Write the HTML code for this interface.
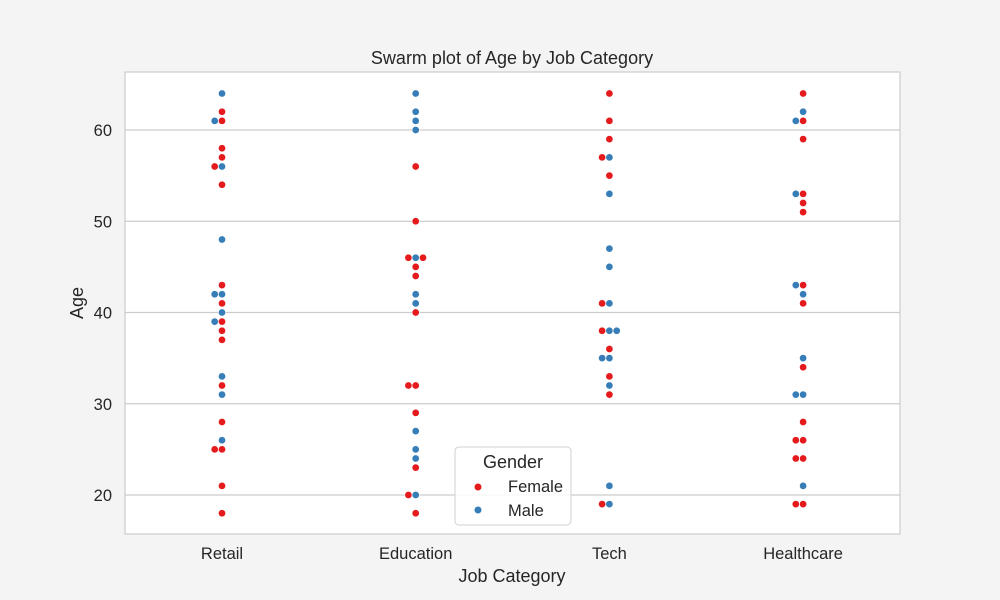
<!DOCTYPE html>
<html><head><meta charset="utf-8"><style>
body{margin:0;background:#f4f4f4;}
svg{display:block;font-family:"Liberation Sans",Arial,sans-serif;}
</style></head><body>
<svg id="c" width="1000" height="600">
<rect width="1000" height="600" fill="#f4f4f4"/>
<rect x="125" y="72" width="775" height="462" fill="#fff" stroke="#cccccc" stroke-width="1.2"/>
<g id="grid"></g>
<g id="pts"></g>
<text x="512" y="64" text-anchor="middle" font-size="18" fill="#262626">Swarm plot of Age by Job Category</text>
<text x="512" y="582" text-anchor="middle" font-size="18" fill="#262626">Job Category</text>
<text transform="translate(83,303) rotate(-90)" text-anchor="middle" font-size="18" fill="#262626">Age</text>
<g>
<rect x="455" y="447" width="116" height="78" rx="4" fill="#fff" fill-opacity="0.85" stroke="#d0d0d0"/>
<text x="513" y="468" text-anchor="middle" font-size="18" fill="#262626">Gender</text>
<circle cx="478" cy="487" r="3.5" fill="#e41a1c"/>
<text x="508" y="492" font-size="16.5" fill="#262626">Female</text>
<circle cx="478" cy="510" r="3.5" fill="#377eb8"/>
<text x="508" y="516" font-size="16.5" fill="#262626">Male</text>
</g>
</svg>
<script>
const categories=["Retail","Education","Tech","Healthcare"];
const yTicks=[20,30,40,50,60];
const retailAges=[64,62,61,61,58,57,56,56,54,48,43,42,42,41,40,39,39,38,37,33,32,31,28,26,25,25,21,18];
const retailGender=["M","F","M","F","F","F","F","M","F","M","F","M","M","F","M","M","F","F","F","M","F","M","F","M","F","F","F","F"];
const educationAges=[64,62,61,60,56,50,46,46,46,45,44,42,41,40,32,32,29,27,25,24,23,20,20,18];
const educationGender=["M","M","M","M","F","F","F","M","F","F","F","M","M","F","F","F","F","M","M","M","F","F","M","F"];
const techAges=[64,61,59,57,57,55,53,47,45,41,41,38,38,38,36,35,35,33,32,31,21,19,19];
const techGender=["F","F","F","F","M","F","M","M","M","F","M","F","M","M","F","M","M","F","M","F","M","F","M"];
const healthAges=[64,62,61,61,59,53,53,52,51,43,43,42,41,35,34,31,31,28,26,26,24,24,21,19,19];
const healthGender=["F","M","M","F","F","M","F","F","F","M","F","M","F","M","F","M","M","F","F","F","F","F","M","F","F"];
const ages=[retailAges,educationAges,techAges,healthAges];
const genders=[retailGender,educationGender,techGender,healthGender];
const NS="http://www.w3.org/2000/svg";
const x0=222,dx=193.7;
function xPos(i){return x0+i*dx;}
function yPos(v){return 495-(v-20)*9.125;}
const grid=document.getElementById('grid');
yTicks.forEach(t=>{
  const l=document.createElementNS(NS,'line');
  l.setAttribute('x1',125);l.setAttribute('x2',900);
  l.setAttribute('y1',yPos(t));l.setAttribute('y2',yPos(t));
  l.setAttribute('stroke','#cccccc');l.setAttribute('stroke-width','1.2');
  
  
  grid.appendChild(l);
  const tx=document.createElementNS(NS,'text');
  tx.setAttribute('x',112);tx.setAttribute('y',yPos(t)+6);
  tx.setAttribute('text-anchor','end');tx.setAttribute('font-size','16.5');tx.setAttribute('fill','#262626');
  tx.textContent=t;
  
  
  grid.appendChild(tx);
});
categories.forEach((c,i)=>{
  const tx=document.createElementNS(NS,'text');
  tx.setAttribute('x',xPos(i));tx.setAttribute('y',559);
  tx.setAttribute('text-anchor','middle');tx.setAttribute('font-size','16.5');tx.setAttribute('fill','#262626');
  tx.textContent=c;
  
  
  grid.appendChild(tx);
});
const pts=document.getElementById('pts');
const sp=7.3;
ages.forEach((arr,ci)=>{
  const groups={};
  arr.forEach((v,j)=>{(groups[v]=groups[v]||[]).push(j);});
  Object.keys(groups).forEach(v=>{
    const g=groups[v];const n=g.length;
    const offs=n===1?[0]:n===2?[-1,0]:g.map((_,k)=>k-(n-1)/2);
    g.forEach((j,k)=>{
      const c=document.createElementNS(NS,'circle');
      c.setAttribute('cx',xPos(ci)+offs[k]*sp);
      c.setAttribute('cy',yPos(arr[j]));
      c.setAttribute('r',3.6);
      c.setAttribute('fill',genders[ci][j]==='F'?'#e41a1c':'#377eb8');
      c.setAttribute('stroke','#fff');c.setAttribute('stroke-width','0.5');
      
      
      pts.appendChild(c);
    });
  });
});
</script>
</body></html>
